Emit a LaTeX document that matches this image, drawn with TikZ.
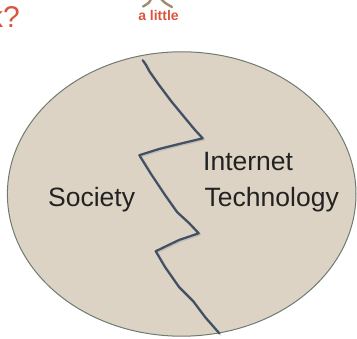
\documentclass[tikz,border=0pt]{standalone}
\usepackage{fontspec}
\setmainfont{Liberation Sans}
\usetikzlibrary{shapes.geometric}
\definecolor{ovalfill}{HTML}{DDD3C4}
\definecolor{ovaldraw}{HTML}{6E7B70}
\definecolor{crackcol}{HTML}{415062}
\definecolor{redtxt}{HTML}{D9563E}
\definecolor{browntxt}{HTML}{A08C6E}
\definecolor{darktxt}{HTML}{222222}
\tikzset{
  bigtxt/.style={font=\fontsize{26.5}{30}\selectfont, text=darktxt, inner sep=0pt},
  redlabel/.style={text=redtxt, inner sep=0pt},
  crackline/.style={draw=crackcol, line width=2.2pt, line join=round, line cap=round},
  crackshadow/.style={draw=black!35, line width=2.6pt, line join=round, line cap=round, opacity=0.5},
}
\begin{document}
\begin{tikzpicture}[x=1pt,y=-1pt]
\useasboundingbox (0,0) rectangle (357,339);
\clip (0,0) rectangle (357,339);
% oval
\node[ellipse, draw=ovaldraw, fill=ovalfill, line width=1pt, minimum width=348.6pt, minimum height=284.4pt, inner sep=0pt] (oval) at (181.7,194) {};
% crack
\path[crackshadow] (143.7,61.2) -- (147,66) -- (150.5,72.5) -- (160,86) -- (172,102) -- (186,119) -- (196,131) -- (203.7,139.3)
  -- (180,145) -- (160,150) -- (140.3,156.2)
  -- (152,175) -- (166,196) -- (178,213) -- (190,224) -- (199.7,234.3)
  -- (180,241) -- (156.7,252.2)
  -- (166,268) -- (180,288) -- (194,302) -- (206,318) -- (220.3,334.3);
\path[crackline] (142.7,60.2) -- (146,65) -- (149.5,71.5) -- (159,85) -- (171,101) -- (185,118) -- (195,130) -- (202.7,138.3)
  -- (179,144) -- (159,149) -- (139.3,155.2)
  -- (151,174) -- (165,195) -- (177,212) -- (189,223) -- (198.7,233.3)
  -- (179,240) -- (155.7,251.2)
  -- (165,267) -- (179,287) -- (193,301) -- (205,317) -- (219.3,333.3);
% labels
\node[bigtxt, anchor=base west] (soc) at (48,206.5) {Society};
\node[bigtxt, anchor=base west] (inet) at (203,171) {Internet};
\node[bigtxt, anchor=base west] (tech) at (204.5,206.5) {Technology};
% top texts
\node[redlabel, font=\fontsize{30}{34}\selectfont, anchor=base west] (q) at (-12,28) {k?};
\node[redlabel, font=\bfseries\fontsize{14}{16}\selectfont, anchor=base] (little) at (158.5,20.5) {a little};
% partial glyph above "a little"
\draw[browntxt, line width=2.4pt, line cap=round] (151,-1) .. controls (149,3) .. (143,6.5);
\draw[browntxt, line width=2.4pt, line cap=round] (161,-1) .. controls (165,3) .. (172,7);
\end{tikzpicture}
\end{document}
